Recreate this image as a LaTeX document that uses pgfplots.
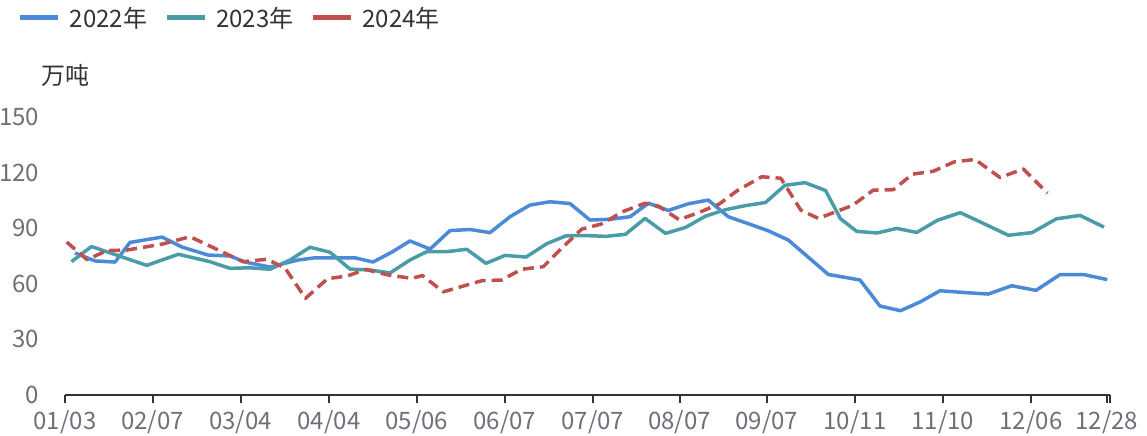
\documentclass[border=0pt]{standalone}
\usepackage{fontspec}
\setmainfont{Noto Sans CJK SC}
\usepackage{pgfplots}
\pgfplotsset{compat=1.18}
\definecolor{c22}{HTML}{4A8AD8}
\definecolor{c23}{HTML}{4A9DA8}
\definecolor{c24}{HTML}{C0504D}
\definecolor{tickgray}{HTML}{6E7079}
\definecolor{txt}{HTML}{333333}
\begin{document}
\begin{tikzpicture}
\path[use as bounding box] (-65bp,-41.3bp) rectangle (1082bp,394.7bp);
\begin{axis}[
  at={(0,0)}, anchor=south west,
  scale only axis, width=1045bp, height=277.5bp,
  xmin=65, xmax=1110, ymin=0, ymax=150,
  clip=false,
  axis x line*=bottom, axis y line*=left,
  y axis line style={draw=none},
  x axis line style={line width=2bp, color=txt, -},
  ytick={0,30,60,90,120,150},
  ytick style={draw=none},
  xtick={65,152.7,240.7,329,416.7,504.7,592.7,679.5,766.8,855,942.7,1031,1106.7},
  xticklabels={01/03,02/07,03/04,04/04,05/06,06/07,07/07,08/07,09/07,10/11,11/10,12/06,12/28},
  extra x ticks={1110}, extra x tick labels={},
  xtick style={line width=2bp, color=txt},
  tick align=outside, major tick length=8.5bp,
  /pgf/number format/assume math mode=true,
  ticklabel style={font=\fontsize{24bp}{28bp}\selectfont, text=tickgray},
  yticklabel style={anchor=east, inner sep=0pt, xshift=-17bp},
  xticklabel style={anchor=north, inner sep=0pt, yshift=-7bp},
  legend columns=3,
  legend style={draw=none, fill=none, at={(-0.045,1.3575)}, anchor=west,
    inner sep=0pt, outer sep=0pt, font=\fontsize{24bp}{28bp}\selectfont, text=txt,
    nodes={inner sep=0pt},
    /tikz/every odd column/.append style={column sep=9bp},
    /tikz/every even column/.append style={column sep=17bp}},
  legend image code/.code={\draw[#1, solid, line width=5bp] (0bp,0bp) -- (38bp,0bp);},
  extra description/.code={\node[font=\fontsize{24bp}{28bp}\selectfont, text=txt, inner sep=0pt] at (axis description cs:0,1.152) {万吨};},
]
\addplot[c22, line width=3.5bp, line join=round] coordinates {
(75,76.6)(95,72.3)(115,71.7)(130,82.3)(162,85.2)(182,79.8)(208,75.5)(230,75.0)(245,71.7)(270,69.0)(298,72.8)(315,74.0)(355,74.0)(373,71.7)(392,77.1)(410,83.1)(430,78.7)(450,88.7)(470,89.3)(490,87.6)(510,96.2)(530,102.5)(550,104.3)(570,103.3)(590,94.4)(610,94.8)(630,96.2)(648.5,103.5)(668.3,99.6)(688.3,103.2)(708.3,105.2)(728.3,96.2)(749,92.3)(768.3,88.6)(788.3,83.6)(808.3,74.3)(828.3,65.0)(860,62.0)(880,47.9)(900.5,45.4)(920,50.1)(940,56.2)(965,55.2)(988.3,54.4)(1011.7,58.9)(1036,56.4)(1060,64.9)(1084,64.9)(1107.3,62.2)
};
\addlegendentry{2022年}
\addplot[c23, line width=3.5bp, line join=round] coordinates {
(71.5,71.9)(91.5,80.1)(146.7,69.9)(178.3,75.9)(210,71.9)(230,68.3)(250,68.6)(270,67.8)(290,72.8)(310,79.7)(330,77.0)(350,67.9)(370,67.4)(390,65.8)(410,72.8)(426.7,77.3)(446.7,77.3)(466.7,78.6)(486,71.0)(505,75.3)(526,74.4)(546.7,81.6)(566,85.9)(586,86.0)(606,85.6)(625.5,86.7)(645,95.3)(665.5,87.2)(685.5,90.4)(705.5,96.5)(725.5,100.0)(745.5,102.2)(765.5,103.9)(785,113.2)(805,114.6)(825.5,110.4)(840.5,95.1)(856.7,88.3)(877,87.4)(896.7,89.9)(916.7,87.7)(937.5,94.3)(960.3,98.4)(983.3,92.6)(1008.3,86.2)(1032,87.6)(1056.5,95.1)(1080,96.9)(1104,90.6)
};
\addlegendentry{2023年}
\addplot[c24, line width=3.5bp, line join=round, dash pattern=on 11bp off 6bp] coordinates {
(66.7,82.5)(87,73.0)(107,77.9)(127,78.2)(147,80.0)(163,81.5)(190,85.4)(243,71.9)(267,73.2)(285,68.5)(305.5,52.1)(327.5,62.7)(347.5,64.2)(365.5,67.7)(388.3,64.7)(411.7,62.9)(422.5,64.4)(443.3,55.6)(481.7,61.6)(501.7,62.0)(521.7,67.8)(543.3,69.2)(562.5,79.6)(581.7,89.5)(601.7,92.3)(622.5,98.9)(645,103.5)(659,101.8)(679,94.6)(699,98.5)(719,103.0)(737.5,110.4)(761.7,117.8)(780.8,117.0)(800.8,99.8)(818.3,95.3)(852.5,102.3)(873.3,110.6)(893.3,110.8)(912.5,119.2)(933.3,120.8)(954,125.8)(975,127.2)(1000,117.4)(1023.3,122.0)(1047.5,109.0)
};
\addlegendentry{2024年}
\end{axis}
\end{tikzpicture}
\end{document}
